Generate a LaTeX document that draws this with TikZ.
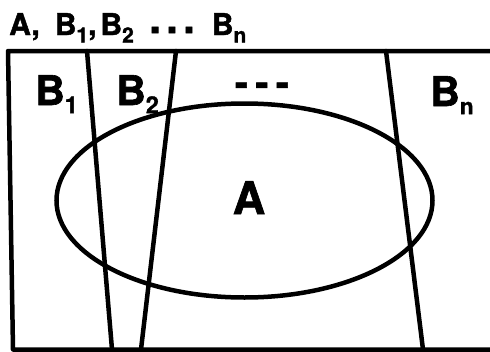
\documentclass[tikz,border=0pt]{standalone}
\usepackage{fontspec}
\setmainfont{TeX Gyre Heros}[BoldFeatures={FakeBold=1.5}]
\newcommand\lowsub[3]{\raisebox{-#2em}{\scalebox{#1}{#3}}}
\newcommand\bigdot{\raisebox{2pt}{\scalebox{1.4}{.}}}
\begin{document}
\begin{tikzpicture}[x=1pt,y=-1pt,
  thickline/.style={line width=4.5pt,line cap=round,line join=round},
  title/.style={font=\fontsize{30}{32}\selectfont\bfseries,inner sep=0pt,anchor=base west},
  biglabel/.style={font=\fontsize{41}{44}\selectfont\bfseries,inner sep=0pt,anchor=base west}]
\useasboundingbox (0,0) rectangle (490,351);
% frame
\draw[thickline] (492,51) -- (8,51) -- (13,349.5) -- (492,349.5);
% dividing lines
\draw[thickline] (87,51) -- (112,349.5);
\draw[thickline] (176,51) -- (141,349.5);
\draw[thickline] (386,51) -- (423,349.5);
% ellipse
\draw[line width=4.5pt] (244.5,200.5) ellipse [x radius=188pt, y radius=97pt];
% title
\node[title] (t) at (9,35) {A,\hspace{15pt}B\lowsub{0.7}{0.25}{1},\hspace{4pt}B\lowsub{0.7}{0.25}{2}\hspace{15.4pt}\bigdot\hspace{5.3pt}\bigdot\hspace{5.3pt}\bigdot\hspace{17pt}B\lowsub{0.7}{0.25}{n}};
% labels
\node[biglabel] (b1) at (35,105) {B\lowsub{0.57}{0.2}{1}};
\node[biglabel] (b2) at (116,105) {B\lowsub{0.57}{0.2}{2}};
\node[biglabel] (bn) at (430,106) {B\lowsub{0.55}{0.2}{n}};
\node[font=\fontsize{39}{42}\selectfont\bfseries,inner sep=0pt,anchor=base] (dd) at (262,96) {-\hspace{7.5pt}-\hspace{7.5pt}-};
\node[font=\fontsize{45}{48}\selectfont\bfseries,inner sep=0pt,anchor=base] (a) at (249,214) {A};
\end{tikzpicture}
\end{document}
